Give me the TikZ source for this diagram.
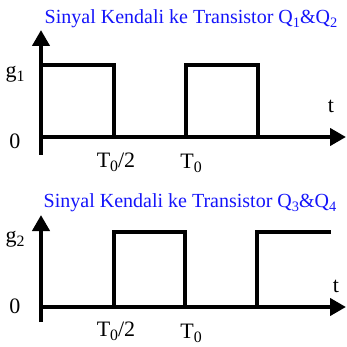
\documentclass[tikz,border=0pt]{standalone}
\usepackage{fontspec}
\setmainfont{Liberation Serif}
\usetikzlibrary{arrows.meta}
\definecolor{ttl}{RGB}{20,20,250}
\newcommand\lowsub[1]{\raisebox{-0.42ex}{\scalebox{0.72}{#1}}}
\begin{document}
\begin{tikzpicture}[x=0.5pt,y=-0.5pt,
  axis/.style={line width=2pt,-{Triangle[length=8pt,width=8.5pt]}},
  sig/.style={line width=2pt,line join=miter},
  lbl/.style={inner sep=0pt,font=\fontsize{11}{13}\selectfont},
  ttlstyle/.style={inner sep=0pt,text=ttl,font=\fontsize{10}{12}\selectfont}]
\useasboundingbox (0,0) rectangle (347,347);
% top plot
\coordinate (o1) at (41,155);
\coordinate (y1) at (41,30);
\coordinate (s1) at (41,137);
\coordinate (x1) at (346,137);
\draw[axis] (o1) -- (y1);
\draw[axis] (s1) -- (x1);
\draw[sig] (41,65) -- (114,65) -- (114,137);
\draw[sig] (186,137) -- (186,65) -- (258,65) -- (258,137);
\node[ttlstyle] (t1) at (191,19) {Sinyal Kendali ke Transistor Q\lowsub{1}\&Q\lowsub{2}};
\node[lbl] (g1) at (15,74) {g\lowsub{1}};
\node[lbl] (z1) at (15,141) {0};
\node[lbl] (tt1) at (331,106) {t};
\node[lbl] (h1) at (116,162) {T\lowsub{0}/2};
\node[lbl] (p1) at (191,163) {T\lowsub{0}};
% bottom plot
\coordinate (o2) at (41,322);
\coordinate (y2) at (41,215);
\coordinate (s2) at (41,307);
\coordinate (x2) at (346,307);
\draw[axis] (o2) -- (y2);
\draw[axis] (s2) -- (x2);
\draw[sig] (114,307) -- (114,232) -- (185,232) -- (185,307);
\draw[sig] (257,307) -- (257,232) -- (331,232);
\node[ttlstyle] (t2) at (190,203) {Sinyal Kendali ke Transistor Q\lowsub{3}\&Q\lowsub{4}};
\node[lbl] (g2) at (15,239) {g\lowsub{2}};
\node[lbl] (z2) at (15,306) {0};
\node[lbl] (tt2) at (336,286) {t};
\node[lbl] (h2) at (116,331) {T\lowsub{0}/2};
\node[lbl] (p2) at (191,333) {T\lowsub{0}};
\end{tikzpicture}
\end{document}
